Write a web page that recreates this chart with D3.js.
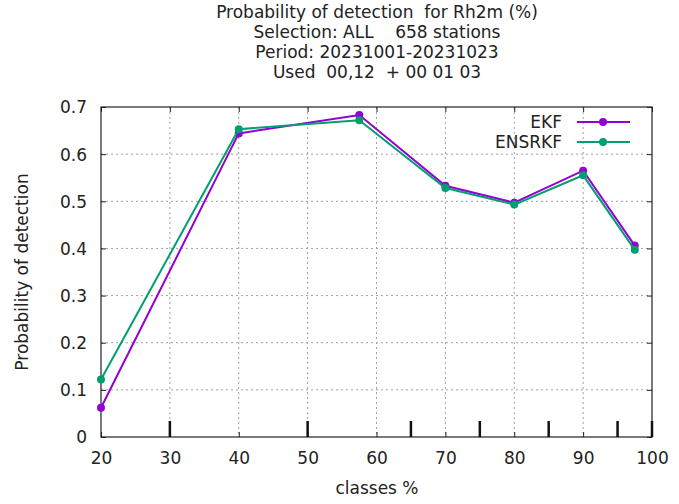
<!DOCTYPE html>
<html><head><meta charset="utf-8">
<script src="https://cdn.jsdelivr.net/npm/d3@7"></script>
<style>body{margin:0;background:#fff}svg{display:block}text{font-family:"DejaVu Sans",sans-serif;fill:#222}</style>
</head><body>
<script>
const titleLines = ["Probability of detection  for Rh2m (%)", "Selection: ALL    658 stations", "Period: 20231001-20231023", "Used  00,12  + 00 01 03"];
const classes = [20, 40, 57.5, 70, 80, 90, 97.5];
const ekf = [0.062, 0.644, 0.683, 0.533, 0.497, 0.565, 0.406];
const ensrkf = [0.122, 0.653, 0.672, 0.528, 0.493, 0.555, 0.397];
const seriesNames = ["EKF", "ENSRKF"];
const seriesColors = ["#9400d3", "#009e73"];
const xTicks = [20, 30, 40, 50, 60, 70, 80, 90, 100];
const yTicks = [0, 0.1, 0.2, 0.3, 0.4, 0.5, 0.6, 0.7];
const classBounds = [30, 50, 65, 75, 85, 95, 100];

const W = 679, H = 504;
const FS = 17;
const m = {l: 101, r: 652, t: 107, b: 437};
const svg = d3.select("body").append("svg").attr("width", W).attr("height", H);
const x = d3.scaleLinear().domain([20, 100]).range([m.l, m.r]);
const y = d3.scaleLinear().domain([0, 0.7]).range([m.b, m.t]);

// grid
const g = svg.append("g");
g.selectAll(".gx").data(xTicks.slice(1, -1)).enter().append("line")
  .attr("x1", d => x(d)).attr("x2", d => x(d)).attr("y1", m.t).attr("y2", m.b)
  .attr("stroke", "#a0a0a0").attr("stroke-width", 1).attr("stroke-dasharray", "2,3");
g.selectAll(".gy").data(yTicks.slice(1, -1)).enter().append("line")
  .attr("y1", d => y(d)).attr("y2", d => y(d)).attr("x1", m.l).attr("x2", m.r)
  .attr("stroke", "#a0a0a0").attr("stroke-width", 1).attr("stroke-dasharray", "2,3");

// axes via d3
const ax = svg.append("g").attr("transform", `translate(0,${m.b})`)
  .call(d3.axisBottom(x).tickValues(xTicks).tickSize(-5).tickPadding(15).tickFormat(d3.format("d")));
const axT = svg.append("g").attr("transform", `translate(0,${m.t})`)
  .call(d3.axisTop(x).tickValues(xTicks).tickSize(-5).tickFormat(""));
const ay = svg.append("g").attr("transform", `translate(${m.l},0)`)
  .call(d3.axisLeft(y).tickValues(yTicks).tickSize(-5).tickPadding(14).tickFormat(d => d === 0 ? "0" : d3.format(".1f")(d)));
const ayR = svg.append("g").attr("transform", `translate(${m.r},0)`)
  .call(d3.axisRight(y).tickValues(yTicks).tickSize(-5).tickFormat(""));
[ax, axT, ay, ayR].forEach(a => {
  a.select(".domain").remove();
  a.selectAll(".tick line").attr("stroke", "#222").attr("stroke-width", 1);
  a.selectAll(".tick text").attr("font-size", FS).attr("fill", "#222").attr("font-family", "DejaVu Sans, sans-serif");
});
ay.selectAll(".tick text").attr("dy", "0.35em");

// border
svg.append("rect").attr("x", m.l).attr("y", m.t).attr("width", m.r - m.l).attr("height", m.b - m.t)
  .attr("fill", "none").attr("stroke", "#222").attr("stroke-width", 1.2);

// class boundary ticks
svg.selectAll(".cb").data(classBounds).enter().append("line")
  .attr("x1", d => x(d)).attr("x2", d => x(d)).attr("y1", m.b - 16).attr("y2", m.b)
  .attr("stroke", "#111").attr("stroke-width", 2.5);

// series
const series = [ekf, ensrkf];
const line = d3.line().x((d, i) => x(classes[i])).y(d => y(d));
series.forEach((s, k) => {
  svg.append("path").datum(s).attr("d", line).attr("fill", "none")
    .attr("stroke", seriesColors[k]).attr("stroke-width", 2);
  svg.selectAll(".p" + k).data(s).enter().append("circle")
    .attr("cx", (d, i) => x(classes[i])).attr("cy", d => y(d)).attr("r", 4)
    .attr("fill", seriesColors[k]);
});

// legend
seriesNames.forEach((n, k) => {
  const yy = 122 + k * 20;
  svg.append("text").attr("x", 562).attr("y", yy).attr("dy", "0.35em").attr("text-anchor", "end")
    .attr("font-size", FS).text(n);
  svg.append("line").attr("x1", 577).attr("x2", 630).attr("y1", yy).attr("y2", yy)
    .attr("stroke", seriesColors[k]).attr("stroke-width", 2);
  svg.append("circle").attr("cx", 603).attr("cy", yy).attr("r", 4).attr("fill", seriesColors[k]);
});

// titles
titleLines.forEach((t, i) => {
  svg.append("text").attr("x", 377).attr("y", 18 + i * 20).attr("text-anchor", "middle")
    .attr("font-size", FS).attr("xml:space", "preserve").style("white-space", "pre").text(t);
});
svg.append("text").attr("x", 377).attr("y", 494).attr("text-anchor", "middle").attr("font-size", FS).text("classes %");
svg.append("text").attr("transform", "translate(28,272) rotate(-90)").attr("text-anchor", "middle")
  .attr("font-size", FS).text("Probability of detection");
</script>
</body></html>
